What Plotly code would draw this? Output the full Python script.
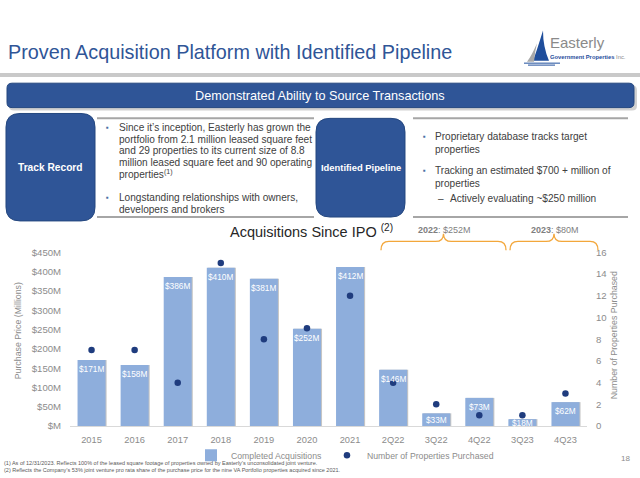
import plotly.graph_objects as go

# ---------------- data ----------------
categories = ["2015", "2016", "2017", "2018", "2019", "2020", "2021",
              "2Q22", "3Q22", "4Q22", "3Q23", "4Q23"]
purchase_price = [171, 158, 386, 410, 381, 252, 412, 146, 33, 73, 18, 62]
properties = [7, 7, 4, 15, 8, 9, 12, 4, 2, 1, 1, 3]
price_ticks = [0, 50, 100, 150, 200, 250, 300, 350, 400, 450]
price_tick_text = ["$M", "$50M", "$100M", "$150M", "$200M", "$250M",
                   "$300M", "$350M", "$400M", "$450M"]
count_ticks = [0, 2, 4, 6, 8, 10, 12, 14, 16]

x_pos = list(range(len(categories)))

W, H = 640, 478
FONT = "Liberation Sans"
BLUE = "#2F5597"
BAR = "#8EAEDC"
DOT = "#1F3C7E"
GRAY = "#8C8C8C"
TXT = "#404040"


def px(x):
    return x / W


def py(y):
    return 1 - y / H


def rrect_path(x0, y0, x1, y1, r):
    pts = [
        ("M", [(x0 + r, y0)]),
        ("L", [(x1 - r, y0)]),
        ("Q", [(x1, y0), (x1, y0 + r)]),
        ("L", [(x1, y1 - r)]),
        ("Q", [(x1, y1), (x1 - r, y1)]),
        ("L", [(x0 + r, y1)]),
        ("Q", [(x0, y1), (x0, y1 - r)]),
        ("L", [(x0, y0 + r)]),
        ("Q", [(x0, y0), (x0 + r, y0)]),
    ]
    s = ""
    for cmd, ps in pts:
        s += cmd + " " + " ".join(f"{px(a):.5f},{py(b):.5f}" for a, b in ps) + " "
    return s + "Z"


def brace_path(x0, x1, ytop, ymid, yend):
    xm = (x0 + x1) / 2
    segs = [
        ("M", [(x0, yend)]),
        ("Q", [(x0, ymid), (x0 + 8, ymid)]),
        ("L", [(xm - 8, ymid)]),
        ("Q", [(xm, ymid), (xm, ytop)]),
        ("Q", [(xm, ymid), (xm + 8, ymid)]),
        ("L", [(x1 - 8, ymid)]),
        ("Q", [(x1, ymid), (x1, yend)]),
    ]
    s = ""
    for cmd, ps in segs:
        s += cmd + " " + " ".join(f"{px(a):.5f},{py(b):.5f}" for a, b in ps) + " "
    return s


fig = go.Figure()

# bar shadow
fig.add_trace(go.Bar(
    x=x_pos, y=purchase_price, width=0.65, offset=-0.30,
    marker=dict(color="rgba(90,90,90,0.35)", line=dict(width=0)),
    showlegend=False, hoverinfo="skip", yaxis="y"))

fig.add_trace(go.Bar(
    x=x_pos, y=purchase_price, width=0.65, offset=-0.325,
    name="Completed Acquisitions",
    marker=dict(color=BAR, line=dict(width=0)), yaxis="y"))

fig.add_trace(go.Scatter(
    x=x_pos, y=properties, mode="markers",
    name="Number of Properties Purchased",
    marker=dict(color=DOT, size=6.5), yaxis="y2"))

annotations = []
for xi, v in zip(x_pos, purchase_price):
    small = v < 40
    annotations.append(dict(
        x=xi, y=(v / 2 if small else v), xref="x", yref="y",
        text=f"${v}M", showarrow=False, yanchor="middle",
        yshift=(0 if small else -9),
        font=dict(family=FONT, size=8.3, color="white")))

shapes = []

# header line
shapes.append(dict(type="line", xref="paper", yref="paper",
                   x0=0, x1=1, y0=py(70.5), y1=py(70.5),
                   line=dict(color="#C9C9C9", width=4)))

# banner
shapes.append(dict(type="path", xref="paper", yref="paper",
                   path=rrect_path(9, 81, 637, 107, 5),
                   fillcolor="rgba(0,0,0,0.18)", line=dict(width=0)))
shapes.append(dict(type="path", xref="paper", yref="paper",
                   path=rrect_path(7, 79, 634, 104, 5),
                   fillcolor=BLUE, line=dict(color="#24477F", width=1)))

# track record box and identified pipeline box
shapes.append(dict(type="path", xref="paper", yref="paper",
                   path=rrect_path(6, 110, 95, 220, 14),
                   fillcolor=BLUE, line=dict(color="#24477F", width=1)))
shapes.append(dict(type="path", xref="paper", yref="paper",
                   path=rrect_path(316, 115, 405, 216, 14),
                   fillcolor=BLUE, line=dict(color="#24477F", width=1)))

# gray rules around text areas
for x0, x1 in [(97, 314), (413, 628)]:
    for y in (115, 216):
        shapes.append(dict(type="line", xref="paper", yref="paper",
                           x0=px(x0), x1=px(x1), y0=py(y), y1=py(y),
                           line=dict(color="#A6A6A6", width=2)))

# braces
shapes.append(dict(type="path", xref="paper", yref="paper",
                   path=brace_path(381, 506, 233, 241, 250),
                   line=dict(color="#F3A73B", width=1.3)))
shapes.append(dict(type="path", xref="paper", yref="paper",
                   path=brace_path(510, 598, 233, 241, 250),
                   line=dict(color="#F3A73B", width=1.3)))

# logo: sail and waves
sail = (f"M {px(543):.5f},{py(25):.5f} Q {px(537):.5f},{py(45):.5f} {px(533):.5f},{py(56):.5f} "
        f"L {px(549):.5f},{py(56):.5f} Q {px(543):.5f},{py(42):.5f} {px(543):.5f},{py(25):.5f} Z")
shapes.append(dict(type="path", xref="paper", yref="paper", path=sail,
                   fillcolor="#1F4E9C", line=dict(width=0)))
sail2 = (f"M {px(537):.5f},{py(38):.5f} Q {px(532):.5f},{py(50):.5f} {px(527):.5f},{py(57):.5f} "
         f"L {px(534):.5f},{py(57):.5f} Q {px(535):.5f},{py(46):.5f} {px(537):.5f},{py(38):.5f} Z")
shapes.append(dict(type="path", xref="paper", yref="paper", path=sail2,
                   fillcolor="#A9A9A9", line=dict(width=0)))
for yy, xa, xb in [(58.5, 524, 560), (60.5, 528, 555)]:
    shapes.append(dict(type="line", xref="paper", yref="paper",
                       x0=px(xa), x1=px(xb), y0=py(yy), y1=py(yy),
                       line=dict(color="#1F4E9C", width=1)))


def note(x, y, text, size, color, xanchor="left", yanchor="middle", **kw):
    d = dict(x=px(x), y=py(y), xref="paper", yref="paper", text=text,
             showarrow=False, xanchor=xanchor, yanchor=yanchor,
             font=dict(family=FONT, size=size, color=color))
    d.update(kw)
    annotations.append(d)


# title
note(6, 47, "Proven Acquisition Platform with Identified Pipeline", 19.8, BLUE)
note(548, 37, "Easterly", 15, "#8A8A8A")
note(548, 52, "<b>Government Properties</b> <span style='color:#8A8A8A'>Inc.</span>",
     5.8, "#1F4E9C")

# banner text
note(320, 92, "Demonstrated Ability to Source Transactions", 12.7, "white", xanchor="center")

# boxes
note(50.5, 165, "<b>Track Record</b>", 10.2, "white", xanchor="center")
note(360.5, 165, "<b>Identified Pipeline</b>", 9.4, "white", xanchor="center")

# left bullets
left_lines = [
    (124, "Since it’s inception, Easterly has grown the", True),
    (136.3, "portfolio from 2.1 million leased square feet", False),
    (148.3, "and 29 properties to its current size of 8.8", False),
    (160.2, "million leased square feet and 90 operating", False),
    (172, "properties<sup>(1)</sup>", False),
    (196, "Longstanding relationships with owners,", True),
    (208, "developers and brokers", False),
]
for y, t, b in left_lines:
    if b:
        note(107, y, "▪", 8, "#4A6FA5", xanchor="center")
    note(117, y, t, 10.1, TXT)

right_lines = [
    (133.5, "Proprietary database tracks target", True, 433),
    (146.5, "properties", False, 433),
    (168.5, "Tracking an estimated $700 + million of", True, 433),
    (181.5, "properties", False, 433),
    (197.5, "Actively evaluating ~$250 million", False, 448),
]
for y, t, b, x in right_lines:
    if b:
        note(424, y, "▪", 8, "#4A6FA5", xanchor="center")
    note(x, y, t, 10.1, TXT)
note(436, 197.5, "–", 10, TXT)

# chart title & brace labels
note(311, 230, "Acquisitions Since IPO <sup>(2)</sup>", 14.5, "#262626", xanchor="center")
note(444, 229, "<b>2022</b>: $252M", 9, "#7F7F7F", xanchor="center")
note(555, 229, "<b>2023</b>: $80M", 9, "#7F7F7F", xanchor="center")

# axis titles
note(18, 333, "Purchase Price (Millions)", 8.8, GRAY, xanchor="center", textangle=-90)
note(614, 337, "Number of Properties Purchased", 8.8, GRAY, xanchor="center", textangle=-90)

# footnotes & page number
note(2, 468, "(1) As of 12/31/2023. Reflects 100% of the leased square footage of properties owned by Easterly’s unconsolidated joint venture.",
     5.5, "#595959")
note(2, 474.5, "(2) Reflects the Company’s 53% joint venture pro rata share of the purchase price for the nine VA Portfolio properties acquired since 2021.",
     5.5, "#595959")
note(625, 463, "18", 8, GRAY, xanchor="center")

fig.update_layout(
    width=W, height=H,
    margin=dict(l=0, r=0, t=0, b=0),
    paper_bgcolor="white", plot_bgcolor="white",
    barmode="overlay",
    font=dict(family=FONT, size=10, color=GRAY),
    xaxis=dict(domain=[px(70), px(587)], range=[-0.5, len(categories) - 0.5],
               tickvals=x_pos, ticktext=categories,
               showline=True, linecolor="#D9D9D9", linewidth=1,
               showgrid=False, zeroline=False, ticks="outside", ticklen=5,
               tickcolor="rgba(0,0,0,0)",
               tickfont=dict(family=FONT, size=9.3, color=GRAY)),
    yaxis=dict(domain=[py(430), py(252)], range=[0, 450],
               tickvals=price_ticks, ticktext=price_tick_text,
               showgrid=False, zeroline=False, ticks="outside", ticklen=6,
               tickcolor="rgba(0,0,0,0)",
               tickfont=dict(family=FONT, size=9.6, color=GRAY)),
    yaxis2=dict(domain=[py(430), py(252)], range=[0, 16], overlaying="y",
                side="right", anchor="x", tickvals=count_ticks,
                showgrid=False, zeroline=False, ticks="outside", ticklen=6,
                tickcolor="rgba(0,0,0,0)",
                tickfont=dict(family=FONT, size=9.6, color=GRAY)),
    legend=dict(orientation="h", x=px(191), y=py(445), xanchor="left",
                yanchor="top", font=dict(family=FONT, size=8.7, color=GRAY),
                bgcolor="rgba(0,0,0,0)", itemwidth=30),
    shapes=shapes,
    annotations=annotations,
)

fig.write_html("out.html", config={"displayModeBar": False},
               post_script="document.body.style.margin='0';document.body.style.overflow='hidden';")
